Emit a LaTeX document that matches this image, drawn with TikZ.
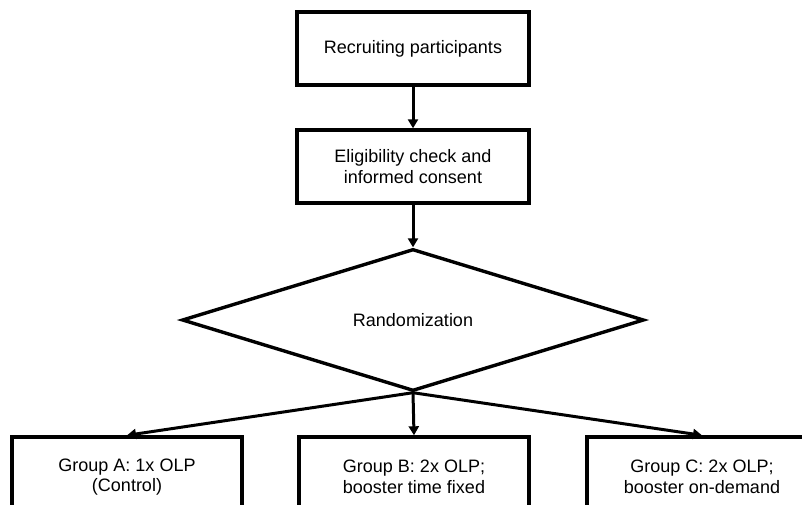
\documentclass[tikz,border=0pt]{standalone}
\usepackage{fontspec}
\setmainfont{Liberation Sans}
\usetikzlibrary{shapes.geometric,arrows.meta}
\begin{document}
\begin{tikzpicture}[x=1pt,y=-1pt,
  every node/.style={font=\fontsize{18}{20.7}\selectfont, align=center},
  stepbox/.style={draw, line width=3.4pt, minimum width=232pt, minimum height=73pt, inner sep=0pt},
  decision/.style={draw, shape=diamond, line width=3.4pt, aspect=3.25, minimum width=462pt, minimum height=142pt, inner sep=0pt},
  flow/.style={line width=3pt, -{Triangle[length=9pt,width=10pt]}}]
\useasboundingbox (0,0) rectangle (802,504);
\clip (0,0) rectangle (802,504);
\node[stepbox] (recruit) at (413,48.5) {Recruiting participants};
\node[stepbox] (elig) at (413,166.5) {Eligibility check and\\informed consent};
\node[decision] (rand) at (413,320) {Randomization};
\node[stepbox, minimum width=230pt, minimum height=80pt] (ga) at (127,477) {Group A: 1x OLP\\(Control)};
\node[stepbox, minimum width=230pt, minimum height=80pt] (gb) at (414,477) {Group B: 2x OLP;\\booster time fixed};
\node[stepbox, minimum width=230pt, minimum height=80pt] (gc) at (702,477) {Group C: 2x OLP;\\booster on-demand};
\draw[flow] (recruit.south) -- (elig.north);
\draw[flow] (elig.south) -- (rand.north);
\draw[flow] (rand.south) -- (ga.north);
\draw[flow] (rand.south) -- (gb.north);
\draw[flow] (rand.south) -- (gc.north);
\end{tikzpicture}
\end{document}
